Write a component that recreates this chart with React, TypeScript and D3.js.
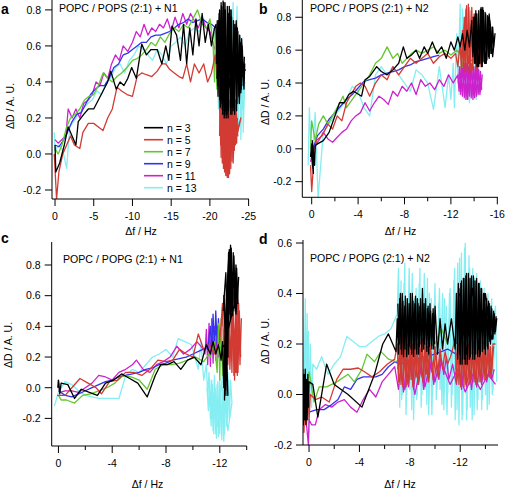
import React from "react";
import * as d3 from "d3";

type Pt = [number, number];

const seriesLabels = ["n = 3", "n = 5", "n = 7", "n = 9", "n = 11", "n = 13"];
const seriesColors = ["#000000", "#d23b33", "#62c832", "#3333ee", "#cc22cc", "#84eef2"];

// ---------- Panel a: POPC / POPS (2:1) + N1 ----------
const aN3: Pt[] = [[0,0.05],[-0.1,-0.1],[-0.6,-0.05],[-1.2,0.05],[-1.7,0.15],[-2.2,0.1],[-2.7,0.05],[-3.0,0.18],[-3.7,0.22],[-4.3,0.25],[-5.0,0.25],[-5.6,0.3],[-6.2,0.35],[-6.8,0.4],[-7.2,0.46],[-7.9,0.36],[-8.4,0.4],[-8.9,0.38],[-9.4,0.42],[-9.9,0.48],[-10.5,0.42],[-11.2,0.61],[-11.8,0.55],[-12.4,0.58],[-13.2,0.58],[-13.8,0.5],[-14.3,0.6],[-14.7,0.52],[-15.1,0.71],[-15.7,0.66],[-16.2,0.52],[-16.6,0.72],[-17.0,0.5],[-17.4,0.7],[-17.8,0.55],[-18.2,0.75],[-18.6,0.6],[-19.0,0.78],[-19.4,0.62],[-19.8,0.72],[-20.2,0.6],[-20.6,0.7],
[-20.8,0.72],[-21.0,0.38],[-21.2,0.78],[-21.3,0.30],[-21.5,0.82],[-21.6,0.25],[-21.7,0.85],[-21.9,0.22],[-22.0,0.80],[-22.1,0.20],[-22.3,0.78],[-22.4,0.24],[-22.5,0.82],[-22.7,0.22],[-22.8,0.76],[-22.9,0.26],[-23.1,0.72],[-23.2,0.22],[-23.3,0.70],[-23.5,0.28],[-23.6,0.68],[-23.8,0.30],[-23.9,0.62],[-24.0,0.34],[-24.2,0.58],[-24.3,0.38],[-24.5,0.50],[-24.4,0.36],[-24.1,0.64],[-23.8,0.28],[-23.4,0.74],[-23.0,0.24],[-22.6,0.80],[-22.2,0.22],[-21.8,0.84],[-21.4,0.28],[-21.1,0.74],[-20.9,0.42],[-21.6,0.66],[-22.4,0.35],[-23.2,0.60],[-24.0,0.42],[-24.6,0.47]];
const aN3b: Pt[] = [[-20.85,0.50],[-20.95,0.74],[-21.05,0.32],[-21.25,0.80],[-21.35,0.26],[-21.45,0.84],[-21.65,0.22],[-21.75,0.80],[-21.85,0.20],[-21.95,0.84],[-22.05,0.24],[-22.25,0.82],[-22.35,0.20],[-22.45,0.78],[-22.65,0.26],[-22.75,0.80],[-22.85,0.22],[-23.05,0.74],[-23.15,0.26],[-23.25,0.72],[-23.45,0.24],[-23.55,0.70],[-23.75,0.32],[-23.85,0.66],[-24.05,0.36],[-24.15,0.60],[-24.35,0.40],[-24.45,0.54]];
const aN5: Pt[] = [[0.1,0.0],[-0.2,-0.25],[-0.5,-0.1],[-1.0,0.0],[-1.5,0.05],[-2.0,0.1],[-2.5,0.05],[-3.2,0.03],[-3.6,0.12],[-4.3,0.17],[-5.0,0.17],[-5.6,0.15],[-6.2,0.13],[-6.8,0.2],[-7.4,0.25],[-8.0,0.37],[-8.6,0.35],[-9.3,0.33],[-10.0,0.32],[-10.6,0.43],[-11.2,0.45],[-11.8,0.44],[-12.5,0.43],[-13.2,0.46],[-13.8,0.5],[-14.3,0.5],[-14.8,0.47],[-15.4,0.45],[-16.0,0.43],[-16.5,0.42],[-17.0,0.5],[-17.5,0.4],[-18.0,0.5],[-18.6,0.45],[-19.2,0.5],[-19.7,0.4],[-20.2,0.45],[-20.7,0.55],
[-21.2,0.35],[-21.4,0.05],[-21.5,0.30],[-21.6,-0.05],[-21.8,0.33],[-21.9,-0.10],[-22.0,0.30],[-22.2,-0.12],[-22.3,0.32],[-22.4,-0.13],[-22.6,0.28],[-22.7,-0.08],[-22.8,0.30],[-23.0,0.0],[-23.1,0.26],[-23.3,0.05],[-23.4,0.22],[-23.6,0.10],[-23.3,0.30],[-23.0,-0.05],[-22.7,0.34],[-22.4,-0.10],[-22.1,0.28],[-21.8,-0.06],[-21.5,0.25],[-21.9,0.05],[-22.5,0.20],[-23.2,0.08],[-24.0,0.20],[-23.6,0.12]];
const aN5b: Pt[] = [[-21.25,0.10],[-21.35,0.32],[-21.45,-0.02],[-21.65,0.34],[-21.75,-0.08],[-21.85,0.30],[-22.05,-0.12],[-22.15,0.33],[-22.25,-0.13],[-22.45,0.30],[-22.55,-0.11],[-22.65,0.32],[-22.85,-0.04],[-22.95,0.28],[-23.15,0.02],[-23.25,0.25],[-23.45,0.06],[-23.55,0.20]];
const aN7: Pt[] = [[0,0.03],[-0.4,0.0],[-0.9,0.05],[-1.5,0.15],[-2.0,0.2],[-2.6,0.22],[-3.2,0.25],[-3.8,0.3],[-4.4,0.32],[-5.0,0.33],[-5.6,0.38],[-6.2,0.45],[-6.8,0.42],[-7.4,0.4],[-8.0,0.43],[-8.6,0.45],[-9.3,0.48],[-10.0,0.52],[-10.6,0.53],[-11.2,0.55],[-11.8,0.58],[-12.4,0.62],[-13.0,0.6],[-13.6,0.65],[-14.2,0.62],[-14.8,0.67],[-15.4,0.7],[-16.0,0.68],[-16.6,0.72],[-17.2,0.7],[-17.8,0.75],[-18.4,0.8],[-19.0,0.72],[-19.6,0.7],[-20.0,0.75],[-20.4,0.62],[-20.6,0.40],[-20.7,0.70],[-20.9,0.36],[-21.0,0.66],[-21.1,0.42],[-21.3,0.58]];
const aN9: Pt[] = [[0,0.05],[-0.5,0.04],[-1.0,0.07],[-1.6,0.12],[-2.2,0.18],[-2.8,0.22],[-3.4,0.23],[-4.0,0.28],[-4.6,0.33],[-5.2,0.36],[-5.8,0.38],[-6.4,0.38],[-7.0,0.42],[-7.6,0.48],[-8.2,0.5],[-8.8,0.55],[-9.4,0.56],[-10.0,0.58],[-10.6,0.6],[-11.2,0.62],[-11.8,0.62],[-12.4,0.65],[-13.0,0.66],[-13.6,0.66],[-14.2,0.67],[-14.8,0.68],[-15.4,0.7],[-16.0,0.72],[-16.6,0.73],[-17.2,0.75],[-17.8,0.73],[-18.4,0.74],[-19.0,0.75],[-19.6,0.73],[-20.2,0.72],[-20.8,0.7]];
const aN11: Pt[] = [[0,0.08],[-0.4,0.06],[-0.9,0.08],[-1.4,0.1],[-1.7,0.25],[-2.2,0.2],[-2.7,0.25],[-3.2,0.2],[-3.7,0.28],[-4.3,0.3],[-4.8,0.33],[-5.3,0.4],[-5.8,0.38],[-6.3,0.45],[-6.8,0.42],[-7.3,0.5],[-7.8,0.55],[-8.3,0.52],[-8.8,0.6],[-9.4,0.57],[-10.0,0.62],[-10.5,0.68],[-11.0,0.65],[-11.5,0.72],[-12.0,0.66],[-12.5,0.7],[-13.0,0.68],[-13.5,0.72],[-14.0,0.7],[-14.5,0.75],[-15.0,0.68],[-15.5,0.76],[-16.0,0.7],[-16.5,0.78],[-17.0,0.72],[-17.5,0.78],[-18.0,0.74],[-18.5,0.7],[-19.0,0.76],[-19.5,0.7],[-20.0,0.68],[-20.5,0.6],[-21.0,0.55]];
const aN13: Pt[] = [[0.1,0.12],[0,0.02],[-0.5,0.05],[-1.0,0.02],[-1.5,-0.08],[-1.9,0.15],[-2.4,0.18],[-3.0,0.22],[-3.6,0.25],[-4.2,0.28],[-4.8,0.3],[-5.4,0.35],[-6.0,0.33],[-6.6,0.4],[-7.2,0.42],[-7.8,0.48],[-8.4,0.5],[-9.0,0.45],[-9.6,0.52],[-10.2,0.55],[-10.8,0.6],[-11.4,0.58],[-12.0,0.55],[-12.6,0.52],[-13.2,0.58],[-13.8,0.55],[-14.4,0.5],[-15.0,0.6],[-15.6,0.62],[-16.2,0.65],[-16.8,0.6],[-17.4,0.68],[-18.0,0.7],[-18.6,0.68],[-19.2,0.75],[-19.8,0.72],[-20.4,0.7],
[-21.0,0.60],[-21.1,0.25],[-21.3,0.70],[-21.5,0.30],[-21.8,0.80],[-22.0,0.35],[-22.4,0.75],[-22.6,0.40],[-23.0,0.84],[-23.2,0.30],[-23.5,0.82],[-23.7,0.15],[-23.9,0.65],[-24.0,0.08],[-24.2,0.55],[-24.3,0.12],[-24.5,0.40],[-24.1,0.25],[-23.8,0.50],[-23.6,0.20]];

// ---------- Panel b: POPC / POPS (2:1) + N2 ----------
const bN3: Pt[] = [[0.1,-0.05],[0.0,0.03],[-0.1,-0.12],[0.05,0.0],[-0.15,-0.15],[-0.05,0.05],[-0.2,-0.08],[-0.1,0.02],[-0.25,-0.1],[-0.3,0.02],[-0.5,0.03],[-1.0,0.05],[-1.5,0.1],[-2.0,0.2],[-2.4,0.28],[-2.8,0.28],[-3.2,0.33],[-3.6,0.35],[-4.3,0.32],[-4.6,0.42],[-5.0,0.44],[-5.6,0.5],[-6.0,0.47],[-6.5,0.45],[-7.0,0.48],[-7.5,0.52],[-7.9,0.62],[-8.2,0.55],[-8.6,0.57],[-9.0,0.6],[-9.3,0.55],[-9.7,0.62],[-10.0,0.58],[-10.4,0.65],[-10.8,0.58],[-11.2,0.62],[-11.6,0.55],[-12.0,0.65],[-12.3,0.6],
[-12.6,0.68],[-12.8,0.62],[-13.0,0.70],[-13.2,0.60],[-13.4,0.72],[-13.6,0.62],[-13.8,0.78],[-13.9,0.56],[-14.0,0.80],[-14.1,0.52],[-14.2,0.82],[-14.3,0.50],[-14.4,0.84],[-14.5,0.52],[-14.6,0.86],[-14.7,0.50],[-14.8,0.84],[-14.9,0.52],[-15.0,0.82],[-15.1,0.54],[-15.2,0.80],[-15.3,0.55],[-15.4,0.76],[-15.5,0.58],[-15.6,0.74],[-15.7,0.62],[-15.8,0.70],[-15.6,0.56],[-15.3,0.82],[-15.0,0.52],[-14.7,0.85],[-14.4,0.50],[-14.1,0.82],[-13.9,0.58],[-14.3,0.70],[-14.9,0.64],[-15.5,0.68]];
const bN3b: Pt[] = [[-13.95,0.80],[-14.05,0.52],[-14.15,0.84],[-14.25,0.50],[-14.35,0.82],[-14.45,0.52],[-14.55,0.85],[-14.65,0.50],[-14.75,0.86],[-14.85,0.53],[-14.95,0.83],[-15.05,0.52],[-15.15,0.81],[-15.25,0.56],[-15.35,0.78],[-15.45,0.58],[-15.55,0.74],[-15.65,0.60]];
const bN5: Pt[] = [[0.1,-0.1],[0,-0.26],[-0.2,-0.05],[-0.4,0.05],[-0.9,0.08],[-1.4,0.15],[-1.8,0.12],[-2.2,0.2],[-2.6,0.17],[-3.0,0.28],[-3.4,0.33],[-3.8,0.38],[-4.2,0.4],[-4.6,0.38],[-5.0,0.32],[-5.5,0.4],[-6.0,0.45],[-6.5,0.42],[-7.0,0.5],[-7.5,0.45],[-8.0,0.5],[-8.5,0.55],[-9.0,0.52],[-9.5,0.55],[-10.0,0.58],[-10.5,0.52],[-11.0,0.56],[-11.5,0.58],[-12.0,0.55],
[-12.4,0.58],[-12.6,0.50],[-12.8,0.65],[-12.9,0.48],[-13.0,0.72],[-13.1,0.46],[-13.3,0.85],[-13.4,0.48],[-13.5,0.88],[-13.6,0.45],[-13.8,0.86],[-13.9,0.50],[-14.0,0.82],[-14.2,0.48],[-14.4,0.75],[-14.6,0.50],[-14.8,0.68],[-15.0,0.52],[-14.7,0.72],[-14.3,0.55],[-13.9,0.80],[-13.5,0.52],[-13.2,0.78],[-12.9,0.55],[-13.6,0.64]];
const bN5b: Pt[] = [[-13.05,0.50],[-13.15,0.80],[-13.25,0.47],[-13.35,0.87],[-13.45,0.46],[-13.55,0.86],[-13.65,0.47],[-13.75,0.84],[-13.85,0.48],[-14.05,0.78],[-14.15,0.50],[-14.3,0.72],[-14.5,0.52],[-14.7,0.66]];
const bN7: Pt[] = [[0.1,0.0],[0,0.17],[-0.3,0.05],[-0.6,0.15],[-1.0,0.2],[-1.4,0.15],[-1.8,0.2],[-2.2,0.25],[-2.7,0.32],[-3.0,0.25],[-3.5,0.3],[-4.0,0.35],[-4.5,0.4],[-5.0,0.45],[-5.5,0.52],[-6.0,0.55],[-6.5,0.62],[-7.0,0.55],[-7.4,0.58],[-7.8,0.52],[-8.2,0.55],[-8.6,0.58],[-9.0,0.6],[-9.5,0.58],[-10.0,0.6],[-10.5,0.62],[-11.0,0.58],[-11.5,0.6],[-12.0,0.57],[-12.5,0.6],[-12.8,0.58],[-13.0,0.50],[-13.3,0.60],[-13.6,0.52],[-13.9,0.55],[-14.2,0.50]];
const bN9: Pt[] = [[0,-0.02],[-0.5,0.08],[-1.0,0.12],[-1.5,0.18],[-2.0,0.22],[-2.5,0.26],[-3.0,0.3],[-3.5,0.33],[-4.0,0.37],[-4.5,0.41],[-5.0,0.42],[-5.5,0.43],[-6.0,0.45],[-6.5,0.46],[-7.0,0.47],[-7.5,0.48],[-8.0,0.5],[-8.5,0.51],[-9.0,0.53],[-9.5,0.54],[-10.0,0.55],[-10.5,0.56],[-11.0,0.57]];
const bN11: Pt[] = [[0.1,-0.08],[0,-0.05],[-0.3,0.02],[-0.6,0.05],[-1.0,0.1],[-1.4,0.06],[-1.8,0.04],[-2.2,0.07],[-2.6,0.1],[-3.0,0.12],[-3.4,0.17],[-3.8,0.2],[-4.2,0.22],[-4.6,0.28],[-5.0,0.23],[-5.4,0.28],[-5.8,0.32],[-6.2,0.3],[-6.6,0.27],[-7.0,0.35],[-7.4,0.32],[-7.8,0.38],[-8.2,0.35],[-8.6,0.4],[-9.0,0.33],[-9.4,0.42],[-9.8,0.38],[-10.2,0.4],[-10.6,0.36],[-11.0,0.42],[-11.4,0.38],[-11.8,0.45],[-12.2,0.4],
[-12.6,0.45],[-12.7,0.35],[-12.9,0.50],[-13.0,0.32],[-13.2,0.52],[-13.3,0.30],[-13.5,0.50],[-13.6,0.32],[-13.8,0.52],[-13.9,0.30],[-14.1,0.50],[-14.2,0.32],[-14.4,0.48],[-14.5,0.33],[-14.7,0.45],[-14.6,0.36],[-14.3,0.50],[-14.0,0.34],[-13.7,0.48],[-13.4,0.33],[-13.1,0.48],[-12.8,0.38]];
const bN11b: Pt[] = [[-12.65,0.40],[-12.75,0.50],[-12.85,0.33],[-13.05,0.52],[-13.15,0.31],[-13.35,0.52],[-13.45,0.30],[-13.65,0.52],[-13.75,0.31],[-13.95,0.50],[-14.05,0.31],[-14.25,0.49],[-14.35,0.33],[-14.55,0.47],[-14.65,0.36]];
const bN13: Pt[] = [[0.3,-0.1],[0.2,0.25],[0,-0.1],[-0.3,0.22],[-0.55,-0.3],[-1.0,0.1],[-1.5,0.15],[-2.0,0.2],[-2.5,0.25],[-3.0,0.3],[-3.5,0.38],[-4.0,0.35],[-4.5,0.25],[-5.0,0.2],[-5.5,0.45],[-6.0,0.5],[-6.5,0.45],[-7.0,0.5],[-7.5,0.45],[-8.0,0.4],[-8.5,0.35],[-9.0,0.48],[-9.5,0.45],[-10.0,0.4],[-10.5,0.24],[-11.0,0.5],[-11.5,0.25],
[-11.8,0.45],[-12.0,0.30],[-12.2,0.52],[-12.3,0.25],[-12.5,0.70],[-12.6,0.40],[-12.8,0.88],[-12.9,0.35],[-13.0,0.85],[-13.1,0.45],[-13.2,0.78],[-13.3,0.30],[-13.5,0.55],[-13.6,0.28],[-13.8,0.50],[-13.9,0.32],[-14.1,0.52],[-14.2,0.30],[-14.4,0.48],[-14.5,0.35],[-14.2,0.45],[-13.7,0.38],[-13.2,0.50],[-12.7,0.33]];

// ---------- Panel c: POPC / POPG (2:1) + N1 ----------
const cN3: Pt[] = [[0.05,0.0],[0.0,0.05],[-0.1,-0.04],[-0.2,0.03],[-0.7,0.02],[-1.2,-0.07],[-1.7,-0.01],[-2.3,-0.03],[-2.9,-0.05],[-3.5,0.03],[-4.1,0.05],[-4.7,0.09],[-5.3,0.06],[-5.9,0.03],[-6.6,-0.06],[-7.2,0.08],[-7.6,0.15],[-8.1,0.15],[-8.6,0.17],[-9.1,0.12],[-9.6,0.18],[-10.1,0.2],[-10.6,0.15],[-10.9,0.25],
[-11.0,0.28],[-11.3,0.22],[-11.5,0.30],[-11.7,0.22],[-11.9,0.28],[-12.1,0.18],[-12.2,0.30],[-12.3,0.0],[-12.4,0.40],[-12.35,-0.08],[-12.5,0.55],[-12.4,0.10],[-12.6,0.70],[-12.5,0.05],[-12.3,0.60],[-12.6,0.20],[-12.7,0.85],[-12.6,0.45],[-12.8,0.93],[-12.9,0.50],[-13.0,0.88],[-13.1,0.52],[-13.2,0.80],[-13.3,0.55],[-13.4,0.72],[-13.2,0.48],[-13.0,0.82],[-12.8,0.45],[-12.7,0.90],[-12.5,0.60],[-12.9,0.75],[-13.3,0.62],[-12.4,0.30],[-12.6,-0.05],[-12.5,0.25],[-12.2,0.28]];
const cN3b: Pt[] = [[-12.25,0.50],[-12.45,0.75],[-12.55,0.40],[-12.65,0.88],[-12.75,0.48],[-12.85,0.91],[-12.95,0.47],[-13.05,0.86],[-13.15,0.50],[-13.25,0.78],[-13.35,0.55],[-13.1,0.70],[-12.9,0.60],[-12.7,0.80],[-12.5,0.35],[-12.45,-0.05],[-12.55,0.30],[-12.4,-0.02]];
const cN5: Pt[] = [[0.1,-0.05],[-0.5,-0.05],[-1.0,0.0],[-1.6,0.06],[-2.2,0.03],[-2.8,0.0],[-3.2,-0.04],[-3.8,0.04],[-4.4,0.05],[-5.0,0.1],[-5.6,0.1],[-6.2,0.08],[-6.8,0.12],[-7.4,0.18],[-8.0,0.17],[-8.5,0.18],[-9.0,0.25],[-9.5,0.22],[-10.0,0.2],[-10.4,0.35],[-10.8,0.25],
[-11.2,0.28],[-11.6,0.22],[-12.0,0.30],[-12.2,0.55],[-12.3,0.20],[-12.5,0.62],[-12.6,0.15],[-12.8,0.60],[-12.9,0.10],[-13.0,0.62],[-13.1,0.05],[-13.2,0.58],[-13.3,0.08],[-13.4,0.55],[-13.5,0.15],[-13.6,0.45],[-13.5,0.25],[-13.3,0.60],[-13.2,0.10],[-13.0,0.50],[-12.7,0.20],[-12.4,0.45]];
const cN5b: Pt[] = [[-12.15,0.40],[-12.35,0.58],[-12.45,0.18],[-12.65,0.60],[-12.75,0.12],[-12.95,0.60],[-13.05,0.08],[-13.25,0.56],[-13.35,0.10],[-13.45,0.50],[-13.55,0.20]];
const cN7: Pt[] = [[0,-0.05],[-0.2,-0.08],[-0.6,-0.08],[-1.2,-0.1],[-1.8,-0.05],[-2.4,-0.04],[-3.0,-0.02],[-3.6,0.0],[-4.2,0.03],[-4.8,0.08],[-5.4,0.07],[-6.0,0.05],[-6.6,-0.01],[-7.2,0.12],[-7.8,0.15],[-8.4,0.15],[-9.0,0.16],[-9.6,0.18],[-10.2,0.2],[-10.8,0.17],[-11.2,0.22],
[-11.3,0.20],[-11.6,0.30],[-11.8,0.10],[-11.9,0.42],[-12.0,0.05],[-12.1,0.45],[-12.2,0.08],[-12.3,0.38],[-12.4,0.12],[-12.2,0.30],[-12.0,0.15]];
const cN9: Pt[] = [[0,-0.02],[-0.5,-0.05],[-1.0,-0.06],[-1.5,-0.04],[-2.0,-0.02],[-2.5,0.0],[-3.0,0.02],[-3.5,0.04],[-4.0,0.05],[-4.5,0.07],[-5.0,0.08],[-5.5,0.09],[-6.0,0.1],[-6.5,0.12],[-7.0,0.13],[-7.5,0.15],[-8.0,0.16],[-8.5,0.18],[-9.0,0.19],[-9.5,0.2],[-10.0,0.22],[-10.5,0.24],[-11.0,0.26],
[-11.1,0.25],[-11.3,0.40],[-11.4,0.22],[-11.5,0.48],[-11.6,0.25],[-11.7,0.50],[-11.8,0.28],[-11.9,0.45],[-12.0,0.30],[-11.8,0.40],[-11.6,0.32]];
const cN11: Pt[] = [[0,0.05],[-0.1,-0.03],[-0.5,-0.02],[-1.0,-0.02],[-1.5,-0.03],[-2.0,0.0],[-2.5,0.03],[-3.0,0.08],[-3.5,0.07],[-4.0,0.05],[-4.5,0.1],[-5.0,0.12],[-5.5,0.15],[-5.8,0.18],[-6.3,0.12],[-6.8,0.1],[-7.3,0.15],[-7.8,0.17],[-8.3,0.2],[-8.8,0.27],[-9.3,0.22],[-9.8,0.25],[-10.3,0.3],[-10.8,0.25],
[-10.9,0.22],[-11.0,0.38],[-11.1,0.15],[-11.2,0.42],[-11.3,0.14],[-11.4,0.45],[-11.5,0.16],[-11.6,0.40],[-11.7,0.18],[-11.8,0.35],[-11.9,0.20],[-11.6,0.30]];
const cN13: Pt[] = [[0.3,-0.12],[0,-0.03],[-0.5,0.04],[-1.0,0.02],[-1.5,-0.02],[-2.0,-0.05],[-2.5,-0.06],[-3.0,-0.07],[-3.5,-0.07],[-4.0,-0.07],[-4.5,-0.07],[-5.0,0.08],[-5.5,0.12],[-6.0,0.1],[-6.5,0.15],[-7.0,0.2],[-7.5,0.22],[-8.0,0.25],[-8.5,0.2],[-8.9,0.32],[-9.4,0.3],[-9.9,0.28],[-10.4,0.12],
[-10.6,0.30],[-10.8,0.05],[-11.0,0.15],[-11.1,-0.05],[-11.2,0.10],[-11.3,-0.20],[-11.4,0.05],[-11.5,-0.28],[-11.6,0.08],[-11.7,-0.30],[-11.8,0.02],[-11.9,-0.32],[-12.0,0.06],[-12.1,-0.30],[-12.2,0.00],[-12.3,-0.35],[-12.4,0.04],[-12.5,-0.25],[-12.6,0.10],[-12.7,-0.20],[-12.8,0.05],[-12.9,-0.10],[-12.6,-0.28],[-12.2,0.08],[-11.8,-0.25],[-11.4,0.00],[-11.2,-0.12]];
const cN13b: Pt[] = [[-11.05,0.0],[-11.15,-0.15],[-11.25,0.05],[-11.35,-0.25],[-11.45,0.02],[-11.55,-0.30],[-11.65,0.0],[-11.75,-0.33],[-11.85,0.04],[-11.95,-0.30],[-12.05,0.0],[-12.15,-0.34],[-12.25,0.02],[-12.35,-0.30],[-12.45,0.0],[-12.55,-0.22],[-12.65,0.05],[-12.75,-0.15]];

// ---------- Panel d: POPC / POPG (2:1) + N2 ----------
const dN3: Pt[] = [[0.6,0.05],[0.55,-0.08],[0.5,0.10],[0.45,-0.12],[0.4,0.08],[0.35,-0.10],[0.3,0.10],[0.25,-0.12],[0.2,0.06],[0.15,-0.1],[0.1,0.08],[0.05,-0.05],[0.0,0.05],[-0.3,0.04],[-0.7,-0.09],[-1.4,0.12],[-2.0,0.04],[-3.1,0.0],[-4.2,-0.05],[-5.2,0.08],[-5.85,0.2],[-6.3,0.24],[-6.9,0.17],
[-7.0,0.30],[-7.1,0.16],[-7.2,0.38],[-7.3,0.18],[-7.4,0.40],[-7.5,0.15],[-7.6,0.35],[-7.7,0.18],[-7.8,0.38],[-7.9,0.16],[-8.0,0.36],[-8.1,0.18],[-8.2,0.40],[-8.3,0.15],[-8.4,0.36],[-8.5,0.18],[-8.6,0.38],[-8.7,0.16],[-8.8,0.35],[-8.9,0.20],[-9.0,0.42],[-9.1,0.18],[-9.2,0.36],[-9.3,0.20],[-9.4,0.34],[-9.5,0.16],[-9.6,0.36],[-9.7,0.20],[-9.8,0.32],[-9.9,0.18],[-10.0,0.35],[-10.2,0.16],[-10.4,0.30],[-10.6,0.18],[-10.8,0.28],[-11.0,0.20],[-11.3,0.30],[-11.6,0.18],
[-11.7,0.40],[-11.8,0.14],[-11.9,0.42],[-12.0,0.12],[-12.1,0.45],[-12.2,0.14],[-12.3,0.46],[-12.4,0.12],[-12.5,0.48],[-12.6,0.14],[-12.7,0.46],[-12.8,0.15],[-12.9,0.47],[-13.0,0.14],[-13.1,0.45],[-13.2,0.16],[-13.3,0.46],[-13.4,0.15],[-13.5,0.44],[-13.6,0.16],[-13.7,0.42],[-13.8,0.18],[-13.9,0.40],[-14.0,0.16],[-14.1,0.38],[-14.2,0.18],[-14.3,0.36],[-14.4,0.20],[-14.5,0.34],[-14.6,0.22],[-14.7,0.32],[-14.8,0.25],[-14.9,0.30],[-14.5,0.22],[-14.0,0.40],[-13.5,0.18],[-13.0,0.42],[-12.5,0.16],[-12.0,0.40]];
const dN3b: Pt[] = [[-7.05,0.36],[-7.15,0.20],[-7.25,0.40],[-7.35,0.16],[-7.45,0.37],[-7.55,0.18],[-7.65,0.39],[-7.75,0.15],[-7.85,0.36],[-7.95,0.19],[-8.05,0.40],[-8.15,0.16],[-8.25,0.37],[-8.35,0.18],[-8.45,0.39],[-8.55,0.16],[-8.65,0.36],[-8.75,0.19],[-8.85,0.38],[-8.95,0.17],[-9.05,0.36],[-9.15,0.20],[-9.25,0.38],[-9.35,0.17],[-9.45,0.35],[-9.55,0.19],[-9.65,0.33],[-9.75,0.18],[-9.85,0.34],[-9.95,0.20]];
const dN3c: Pt[] = [[-11.75,0.20],[-11.85,0.44],[-11.95,0.16],[-12.05,0.44],[-12.15,0.12],[-12.25,0.46],[-12.35,0.14],[-12.45,0.47],[-12.55,0.12],[-12.65,0.48],[-12.75,0.14],[-12.85,0.46],[-12.95,0.16],[-13.05,0.47],[-13.15,0.14],[-13.25,0.45],[-13.35,0.16],[-13.45,0.44],[-13.55,0.15],[-13.65,0.42],[-13.75,0.17],[-13.85,0.40],[-13.95,0.18],[-14.05,0.38],[-14.15,0.19],[-14.25,0.37],[-14.35,0.21],[-14.45,0.35],[-14.55,0.22],[-14.65,0.33],[-14.75,0.24],[-14.85,0.31]];
const dN5: Pt[] = [[0.8,0.07],[0.75,-0.18],[0.7,0.08],[0.6,-0.20],[0.5,0.06],[0.4,-0.15],[0.3,0.08],[0.2,-0.12],[0.1,0.05],[0.0,-0.1],[-0.1,0.0],[-0.5,-0.02],[-1.0,-0.01],[-1.6,-0.03],[-2.2,0.06],[-2.7,0.10],[-3.3,0.10],[-3.9,0.105],[-4.4,0.09],[-5.0,0.07],[-5.6,0.09],[-6.2,0.12],[-6.8,0.14],
[-7.0,0.20],[-7.1,0.05],[-7.2,0.22],[-7.3,0.04],[-7.4,0.24],[-7.5,0.06],[-7.6,0.22],[-7.7,0.03],[-7.8,0.20],[-7.9,0.05],[-8.0,0.23],[-8.1,0.06],[-8.2,0.20],[-8.3,0.04],[-8.4,0.22],[-8.5,0.07],[-8.6,0.20],[-8.7,0.05],[-8.8,0.21],[-8.9,0.08],[-9.0,0.22],[-9.1,0.06],[-9.2,0.20],[-9.3,0.08],[-9.4,0.19],[-9.5,0.07],[-9.6,0.20],[-9.8,0.09],[-10.0,0.19],[-10.2,0.08],[-10.4,0.18],[-10.6,0.10],[-10.8,0.17],[-11.0,0.12],[-11.3,0.16],
[-11.6,0.22],[-11.7,0.05],[-11.8,0.21],[-11.9,0.04],[-12.0,0.22],[-12.1,0.05],[-12.2,0.20],[-12.3,0.03],[-12.4,0.22],[-12.5,0.05],[-12.6,0.21],[-12.7,0.04],[-12.8,0.22],[-12.9,0.06],[-13.0,0.20],[-13.1,0.05],[-13.2,0.21],[-13.3,0.06],[-13.4,0.20],[-13.5,0.05],[-13.6,0.22],[-13.7,0.07],[-13.8,0.20],[-13.9,0.06],[-14.0,0.21],[-14.1,0.08],[-14.2,0.20],[-14.3,0.07],[-14.4,0.19],[-14.5,0.09],[-14.6,0.20],[-14.8,0.20]];
const dN5b: Pt[] = [[-7.05,0.10],[-7.25,0.18],[-7.45,0.03],[-7.65,0.18],[-7.85,0.04],[-8.05,0.19],[-8.25,0.03],[-8.45,0.18],[-8.65,0.04],[-8.85,0.18],[-9.05,0.05],[-9.25,0.20],[-9.45,0.05],[-9.65,0.18],[-9.85,0.06],[-10.05,0.17],[-10.25,0.07],[-10.45,0.16]];
const dN5c: Pt[] = [[-11.65,0.10],[-11.85,0.20],[-12.05,0.03],[-12.25,0.21],[-12.45,0.04],[-12.65,0.20],[-12.85,0.05],[-13.05,0.21],[-13.25,0.04],[-13.45,0.22],[-13.65,0.05],[-13.85,0.21],[-14.05,0.06],[-14.25,0.20],[-14.45,0.07],[-14.65,0.19]];
const dN7: Pt[] = [[0.1,0.05],[0,0.09],[-0.4,-0.03],[-0.8,0.03],[-1.4,0.03],[-2.2,0.05],[-3.1,0.08],[-3.6,0.05],[-4.2,0.1],[-4.6,0.16],[-5.2,0.13],[-5.7,0.17],[-6.3,0.14],[-6.9,0.13],[-8.0,0.16],[-9.0,0.18],[-10.0,0.2],[-10.5,0.26],[-11.0,0.2]];
const dN9: Pt[] = [[0,-0.07],[-0.6,-0.06],[-1.2,-0.06],[-1.8,-0.04],[-2.3,-0.02],[-2.8,0.03],[-3.3,0.02],[-3.8,0.06],[-4.3,0.07],[-4.8,0.07],[-5.3,0.07],[-5.8,0.08],[-6.3,0.11],[-6.8,0.13],[-7.2,0.12],[-8.5,0.14],[-10.0,0.16],[-11.0,0.18],[-12.0,0.15]];
const dN11: Pt[] = [[0.2,-0.12],[0.05,-0.20],[0.0,-0.10],[-0.2,-0.12],[-0.5,-0.12],[-0.8,-0.06],[-1.3,-0.04],[-1.8,-0.05],[-2.3,-0.03],[-2.8,-0.02],[-3.3,-0.05],[-3.8,-0.07],[-4.3,-0.02],[-4.8,0.02],[-5.3,-0.01],[-5.8,0.05],[-6.3,0.08],[-6.8,0.11],
[-7.1,0.02],[-7.3,0.12],[-7.5,0.01],[-7.7,0.10],[-7.9,0.03],[-8.1,0.14],[-8.3,0.02],[-8.5,0.10],[-8.7,0.04],[-8.9,0.12],[-9.1,0.02],[-9.3,0.12],[-9.5,0.05],[-9.7,0.14],[-9.9,0.04],[-10.1,0.12],[-10.3,0.06],[-10.5,0.14],[-10.7,0.08],[-10.9,0.15],[-11.1,0.06],[-11.4,0.12],[-11.7,0.04],[-11.9,0.12],[-12.1,0.02],[-12.3,0.12],[-12.5,0.03],[-12.7,0.10],[-12.9,0.02],[-13.1,0.11],[-13.3,0.03],[-13.5,0.10],[-13.7,0.04],[-13.9,0.12],[-14.1,0.05],[-14.3,0.10],[-14.5,0.06],[-14.7,0.10]];
const dN11b: Pt[] = [[-7.2,0.08],[-7.6,0.02],[-8.0,0.12],[-8.4,0.0],[-8.8,0.10],[-9.2,0.03],[-9.6,0.12],[-10.0,0.05],[-10.4,0.14],[-11.2,0.04],[-11.8,0.10],[-12.4,0.01],[-13.0,0.08],[-13.6,0.02],[-14.2,0.08],[-14.8,0.04]];
const dN13: Pt[] = [[0.8,0.0],[0.7,0.25],[0.6,-0.1],[0.5,0.30],[0.4,-0.05],[0.3,0.38],[0.2,-0.12],[0.15,0.32],[0.1,-0.08],[0.05,0.25],[0.0,-0.15],[-0.1,0.20],[-0.2,-0.05],[-0.3,0.12],[-0.6,0.1],[-1.0,0.15],[-1.5,0.08],[-2.0,0.12],[-2.5,0.15],[-3.0,0.23],[-3.5,0.21],[-4.0,0.19],[-4.5,0.19],[-5.0,0.21],[-5.5,0.23],[-6.0,0.24],[-6.5,0.26],[-7.0,0.32],
[-7.1,0.50],[-7.2,-0.05],[-7.3,0.45],[-7.4,0.00],[-7.6,0.52],[-7.7,-0.08],[-7.9,0.40],[-8.0,0.02],[-8.2,0.48],[-8.3,-0.10],[-8.5,0.42],[-8.6,0.0],[-8.8,0.50],[-8.9,-0.05],[-9.1,0.40],[-9.2,0.02],[-9.4,0.46],[-9.5,-0.08],[-9.7,0.38],[-9.8,0.0],[-10.0,0.44],[-10.1,-0.02],[-10.3,0.36],[-10.4,0.02],[-10.6,0.40],[-10.7,-0.06],[-10.9,0.35],[-11.0,0.0],[-11.2,0.42],[-11.3,-0.05],[-11.5,0.45],[-11.6,-0.10],[-11.8,0.52],[-11.9,-0.12],[-12.1,0.56],[-12.2,-0.08],[-12.4,0.60],[-12.5,-0.10],[-12.7,0.55],[-12.8,-0.05],[-13.0,0.50],[-13.1,-0.08],[-13.3,0.48],[-13.4,-0.02],[-13.6,0.45],[-13.7,-0.06],[-13.9,0.42],[-14.0,0.0],[-14.2,0.40],[-14.3,-0.04],[-14.5,0.38],[-14.6,0.02],[-14.8,0.35],[-14.9,0.05]];
const dN13b: Pt[] = [[-7.15,0.30],[-7.35,-0.02],[-7.55,0.44],[-7.75,0.0],[-7.95,0.50],[-8.15,-0.06],[-8.35,0.38],[-8.55,-0.02],[-8.75,0.44],[-8.95,0.0],[-9.15,0.48],[-9.35,-0.04],[-9.55,0.40],[-9.75,-0.08],[-9.95,0.36],[-10.15,0.02],[-10.35,0.42],[-10.55,-0.04],[-10.75,0.38],[-10.95,-0.08],[-11.15,0.40],[-11.35,0.0],[-11.55,0.50],[-11.75,-0.06],[-11.95,0.54],[-12.15,-0.10],[-12.35,0.58],[-12.55,-0.06],[-12.75,0.50],[-12.95,-0.10],[-13.15,0.46],[-13.35,-0.06],[-13.55,0.44],[-13.75,-0.02],[-13.95,0.40],[-14.15,-0.06],[-14.35,0.36],[-14.55,0.0],[-14.75,0.34]];

// ---------- titles & ticks ----------
const panelTitles = ["POPC / POPS (2:1) + N1", "POPC / POPS (2:1) + N2", "POPC / POPG (2:1) + N1", "POPC / POPG (2:1) + N2"];
const panelLetters = ["a", "b", "c", "d"];
const aXTicks = [0, -5, -10, -15, -20, -25];
const bXTicks = [0, -4, -8, -12, -16];
const bXMinor = [-2, -6, -10, -14];
const cXTicks = [0, -4, -8, -12];
const cXMinor = [-2, -6, -10, -14];
const dXTicks = [0, -4, -8, -12];
const dXMinor = [-2, -6, -10, -14];
const abcYTicks = [-0.2, 0.0, 0.2, 0.4, 0.6, 0.8];
const dYTicks = [-0.2, 0.0, 0.2, 0.4, 0.6];
const xAxisTitle = "Δf / Hz";
const yAxisTitle = "ΔD / A. U.";

const FONT = "'Liberation Sans', Arial, Helvetica, sans-serif";

interface PanelProps {
  id: string;
  series: Pt[][][];
  xDomain: [number, number];
  yDomain: [number, number];
  left: number; right: number; top: number; bottom: number;
  xTicks: number[]; xMinor: number[]; yTicks: number[];
  title: string; titleX: number; titleY: number;
  letter: string; letterX: number; letterY: number;
  xLabelX: number; xLabelY: number; yLabelX: number; yLabelY: number;
  legend?: boolean;
}

const drawOrder = [5, 4, 3, 2, 1, 0];

function Panel(p: PanelProps) {
  const x = d3.scaleLinear().domain(p.xDomain).range([p.left, p.right]);
  const y = d3.scaleLinear().domain(p.yDomain).range([p.bottom, p.top]);
  const line = d3.line<Pt>().x((d) => x(d[0])).y((d) => y(d[1]));
  const majorLen = 7, minorLen = 4;
  return (
    <g>
      <defs>
        <clipPath id={`clip-${p.id}`}>
          <rect x={p.left} y={p.top} width={p.right - p.left} height={p.bottom - p.top} />
        </clipPath>
      </defs>
      <g clipPath={`url(#clip-${p.id})`}>
        {drawOrder.map((i) => (
          <g key={i}>
            {p.series[i].map((seg, k) => (
              <path key={k} d={line(seg) || ""} fill="none" stroke={seriesColors[i]}
                strokeWidth={1.3} strokeLinejoin="round" />
            ))}
          </g>
        ))}
      </g>
      <line x1={p.left} x2={p.left} y1={p.top} y2={p.bottom} stroke="#000" strokeWidth={1} />
      <line x1={p.left} x2={p.right} y1={p.bottom} y2={p.bottom} stroke="#000" strokeWidth={1} />
      {p.yTicks.map((t) => (
        <g key={`y${t}`}>
          <line x1={p.left - majorLen} x2={p.left} y1={y(t)} y2={y(t)} stroke="#000" />
          <text x={p.left - 11} y={y(t) + 3.8} textAnchor="end" fontSize={10.5} fontFamily={FONT}>{t.toFixed(1)}</text>
        </g>
      ))}
      {p.xTicks.map((t) => (
        <g key={`x${t}`}>
          <line x1={x(t)} x2={x(t)} y1={p.bottom} y2={p.bottom + majorLen} stroke="#000" />
          <text x={x(t)} y={p.bottom + 21} textAnchor="middle" fontSize={10.5} fontFamily={FONT}>{String(t)}</text>
        </g>
      ))}
      {p.xMinor.map((t) => (
        <line key={`m${t}`} x1={x(t)} x2={x(t)} y1={p.bottom} y2={p.bottom + minorLen} stroke="#000" />
      ))}
      <text x={p.xLabelX} y={p.xLabelY} textAnchor="middle" fontSize={10.5} fontFamily={FONT}>{xAxisTitle}</text>
      <text transform={`translate(${p.yLabelX},${p.yLabelY}) rotate(-90)`} textAnchor="middle" fontSize={10.5} fontFamily={FONT}>{yAxisTitle}</text>
      <text x={p.titleX} y={p.titleY} fontSize={10.6} fontFamily={FONT}>{p.title}</text>
      <text x={p.letterX} y={p.letterY} fontSize={14} fontWeight="bold" fontFamily={FONT}>{p.letter}</text>
      {p.legend && seriesLabels.map((lab, i) => (
        <g key={lab}>
          <line x1={144} x2={163} y1={127.7 + i * 12} y2={127.7 + i * 12} stroke={seriesColors[i]} strokeWidth={1.6} />
          <text x={167} y={127.7 + i * 12 + 3.8} fontSize={10.5} fontFamily={FONT}>{lab}</text>
        </g>
      ))}
    </g>
  );
}

export default function App() {
  return (
    <svg width={506} height={490} style={{ display: "block", position: "absolute", left: 0, top: 0, background: "#fff" }}>
      <rect width={506} height={490} fill="#fff" />
      <Panel id="a" series={[[aN3, aN3b], [aN5, aN5b], [aN7], [aN9], [aN11], [aN13]]} xDomain={[0.39, -25.05]} yDomain={[-0.25, 0.855]}
        left={52} right={249} top={0} bottom={199} xTicks={aXTicks} xMinor={[]} yTicks={abcYTicks}
        title={panelTitles[0]} titleX={59} titleY={11.5} letter={panelLetters[0]} letterX={1} letterY={13.5}
        xLabelX={141} xLabelY={235} yLabelX={13.5} yLabelY={106} legend />
      <Panel id="b" series={[[bN3, bN3b], [bN5, bN5b], [bN7], [bN9], [bN11, bN11b], [bN13]]} xDomain={[0.81, -16.06]} yDomain={[-0.295, 0.905]}
        left={302.3} right={498} top={0} bottom={197.3} xTicks={bXTicks} xMinor={bXMinor} yTicks={abcYTicks}
        title={panelTitles[1]} titleX={310} titleY={11.5} letter={panelLetters[1]} letterX={259} letterY={14}
        xLabelX={400.5} xLabelY={235} yLabelX={268.5} yLabelY={102} />
      <Panel id="c" series={[[cN3, cN3b], [cN5, cN5b], [cN7], [cN9], [cN11], [cN13, cN13b]]} xDomain={[0.5, -14.0]} yDomain={[-0.38, 0.95]}
        left={51.7} right={246.7} top={242} bottom={446} xTicks={cXTicks} xMinor={cXMinor} yTicks={abcYTicks}
        title={panelTitles[2]} titleX={63} titleY={262.5} letter={panelLetters[2]} letterX={1} letterY={243}
        xLabelX={147.5} xLabelY={488} yLabelX={12} yLabelY={345} />
      <Panel id="d" series={[[dN3, dN3b, dN3c], [dN5, dN5b, dN5c], [dN7], [dN9], [dN11, dN11b], [dN13, dN13b]]} xDomain={[0.48, -15.0]} yDomain={[-0.2, 0.612]}
        left={303} right={498} top={240} bottom={445} xTicks={dXTicks} xMinor={dXMinor} yTicks={dYTicks}
        title={panelTitles[3]} titleX={310} titleY={261.5} letter={panelLetters[3]} letterX={259} letterY={244}
        xLabelX={400} xLabelY={488} yLabelX={268.5} yLabelY={341} />
    </svg>
  );
}
